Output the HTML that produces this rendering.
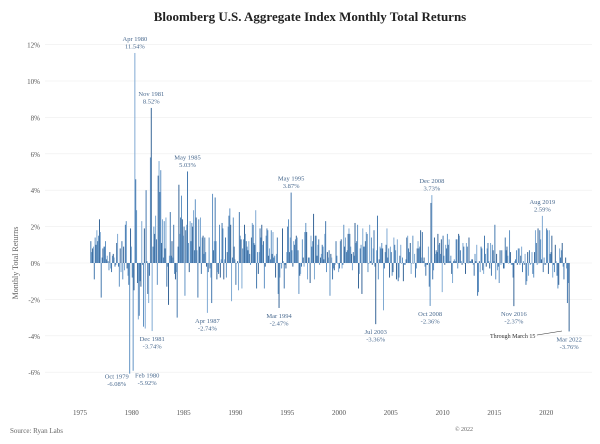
<!DOCTYPE html>
<html><head><meta charset="utf-8"><style>
body{margin:0;background:#fff;}
svg{display:block;font-family:"Liberation Serif",serif;}
</style></head><body>
<svg id="chart" width="600" height="444" viewBox="0 0 600 444">
<rect width="600" height="444" fill="#fff"/>
<text x="310" y="21" text-anchor="middle" font-size="13" font-weight="bold" fill="#222">Bloomberg U.S. Aggregate Index Monthly Total Returns</text>
<text transform="translate(18,263) rotate(-90)" text-anchor="middle" font-size="8" fill="#666">Monthly Total Returns</text>
<text x="10" y="433" font-size="7" fill="#666">Source: Ryan Labs</text>
<text x="455" y="431" font-size="6" fill="#666">© 2022</text>
<g id="grid"></g><g id="bars"></g><g id="ann"></g>
</svg>
<script>
const yTicks=[12,10,8,6,4,2,0,-2,-4,-6];
const xTicks=[1975,1980,1985,1990,1995,2000,2005,2010,2015,2020];
const startYear=1976;
const returns=[
1.2,0.6,0.8,0.9,-0.9,1.4,1.0,1.8,1.2,1.5,2.4,1.7,
-1.9,0.3,0.8,0.9,0.9,1.2,0.2,0.4,0.1,-0.4,0.6,-0.3,
-0.5,0.4,0.5,0.3,-0.2,-0.1,1.1,1.6,-0.2,-1.3,0.8,-0.5,
1.2,-0.9,0.9,-0.4,2.1,2.3,-0.3,-0.7,-1.2,-6.08,1.9,0.9,
-0.8,-5.92,-1.5,11.54,4.6,2.9,-1.1,-3.1,-2.9,-1.0,-1.3,2.3,
-0.1,-3.5,1.9,-3.6,4.0,0.1,-1.7,-2.2,-0.7,5.8,8.52,-3.74,
0.9,2.0,1.6,2.6,1.3,-1.2,4.8,5.6,3.9,5.1,1.1,2.4,
0.3,2.3,0.8,2.5,-1.3,-0.2,-2.3,0.4,2.8,0.4,1.2,0.3,
2.1,-0.6,-0.9,-0.5,-3.0,0.9,4.3,1.6,2.5,3.7,2.4,1.5,
2.0,-1.8,1.8,2.1,5.03,1.1,-0.5,2.3,1.2,2.2,2.0,2.9,
0.7,3.5,2.5,0.7,-1.9,2.4,0.9,2.5,-0.6,1.4,1.5,0.5,
1.4,0.6,-0.2,-2.74,-0.5,1.4,-0.3,-0.8,-2.2,3.8,0.7,1.2,
3.6,1.2,-0.9,-0.5,-0.6,2.1,-0.8,0.2,2.2,1.9,-0.9,0.2,
1.4,-0.8,0.6,2.0,2.6,3.0,2.1,-2.1,0.3,2.5,0.9,0.2,
-1.2,0.0,0.1,-1.5,2.8,1.5,1.3,-1.4,0.8,1.3,2.1,1.6,
1.2,0.9,0.7,1.2,0.5,-0.1,1.4,2.2,2.1,1.1,1.0,2.9,
-1.4,0.6,-0.6,0.6,1.9,1.4,2.1,1.0,1.2,-1.4,-0.2,1.5,
1.9,1.8,0.4,0.8,0.2,1.8,0.5,1.7,0.3,0.4,-0.8,0.5,
1.4,-1.7,-2.47,-0.8,-0.0,-0.3,1.9,0.1,-1.4,-0.1,-0.3,0.6,
2.0,2.4,0.6,1.4,3.87,0.7,-0.2,1.2,1.0,1.3,1.5,1.4,
0.7,-1.7,-0.7,-0.6,-0.2,1.3,0.3,-0.2,1.7,2.2,1.7,-0.9,
0.3,0.3,-1.1,1.5,0.9,1.2,2.7,-0.9,1.5,1.5,0.4,1.0,
1.3,-0.1,0.3,0.5,1.0,0.9,0.2,1.6,2.3,-0.5,0.6,0.3,
0.7,-1.8,0.5,0.3,-0.9,-0.3,-0.4,-0.1,1.2,0.4,-0.0,-0.5,
-0.3,1.2,1.3,-0.3,-0.1,2.1,0.9,1.4,0.6,0.7,1.6,1.9,
1.6,0.9,0.5,-0.4,0.6,0.4,2.2,1.1,1.2,2.1,-1.4,-0.6,
0.8,1.0,-1.7,1.9,0.9,0.9,1.2,1.7,1.6,-0.5,0.0,2.1,
0.1,1.4,-0.1,0.8,1.8,-0.2,-3.36,0.7,2.6,-0.9,0.2,0.9,
0.8,1.1,0.8,-2.6,-0.3,0.6,1.0,1.9,0.3,0.8,-0.8,0.9,
0.6,-0.7,-0.5,1.4,1.0,0.7,-0.9,1.3,-1.0,-0.8,0.4,1.0,
0.0,0.3,-1.0,-0.1,-0.1,0.2,1.4,1.5,0.8,0.6,1.1,-0.6,
-0.0,1.5,0.0,0.5,-0.8,-0.3,0.8,1.2,0.8,0.9,1.8,0.3,
1.7,0.1,0.3,-0.2,-0.7,-0.1,-0.1,0.9,-1.3,-2.36,3.3,3.73,
-0.9,-0.4,1.4,0.5,0.7,0.6,1.6,1.0,1.1,0.5,1.3,-1.6,
1.5,0.4,-0.1,1.0,0.8,1.6,1.0,1.3,0.1,0.4,-0.6,-1.1,
0.1,0.2,0.1,1.3,1.3,-0.3,1.6,1.5,0.7,0.1,-0.1,1.1,
0.9,-0.0,-0.6,1.1,0.9,0.0,1.4,0.1,0.1,0.2,0.2,-0.1,
-0.7,0.5,0.1,1.0,-1.8,-1.6,0.1,-0.5,0.9,0.8,-0.4,-0.6,
1.5,0.5,-0.2,0.8,1.1,0.1,-0.3,1.1,-0.7,1.0,0.7,0.1,
2.1,-0.9,0.5,-0.4,-0.2,-1.1,0.7,-0.1,0.7,0.0,-0.3,-0.3,
1.4,0.7,0.9,0.4,0.0,1.8,0.6,-0.1,-0.1,-0.8,-2.37,0.1,
0.2,0.7,-0.1,0.8,0.8,-0.1,0.4,0.9,-0.5,0.1,-0.1,0.5,
-1.2,-1.0,0.6,-0.7,0.7,-0.1,0.0,0.6,-0.6,-0.8,0.6,1.8,
1.1,-0.1,1.9,0.0,1.8,1.3,0.2,2.59,-0.5,0.3,-0.1,-0.1,
1.9,1.8,-0.6,1.8,0.5,0.6,1.5,-0.8,-0.1,-0.5,1.0,0.1,
-0.7,-1.4,-1.2,0.8,0.3,0.7,1.1,-0.2,-0.9,-0.0,0.3,-0.3,
-2.2,-1.1,-3.76];
const annMonths=["Apr 1980","Nov 1981","May 1985","May 1995","Dec 2008","Aug 2019","Oct 1979","Feb 1980","Dec 1981","Apr 1987","Mar 1994","Jul 2003","Oct 2008","Nov 2016","Mar 2022"];
const annValues=[11.54,8.52,5.03,3.87,3.73,2.59,-6.08,-5.92,-3.74,-2.74,-2.47,-3.36,-2.36,-2.37,-3.76];
const annIndex=[51,70,112,232,395,523,45,49,71,135,218,330,393,490,554];

const NS="http://www.w3.org/2000/svg";
const x=t=>80+(t-1975)*10.36;
const y=v=>263-v*18.2;
function mk(tag,attrs,parent){const e=document.createElementNS(NS,tag);for(const k in attrs)e.setAttribute(k,attrs[k]);parent.appendChild(e);return e;}
const grid=document.getElementById('grid'),bars=document.getElementById('bars'),ann=document.getElementById('ann');
yTicks.forEach(v=>{
  const l=mk('line',{x1:45,x2:592,y1:y(v),y2:y(v),stroke:'#eee','stroke-width':0.6},grid);
  
  
  const t=mk('text',{x:40,y:y(v)+3,'text-anchor':'end','font-size':7,fill:'#555'},grid);
  t.textContent=v+'%';
  
  
});
xTicks.forEach(v=>{
  const t=mk('text',{x:x(v),y:415,'text-anchor':'middle','font-size':7,fill:'#555'},grid);
  t.textContent=v;
  
  
});
const shades=['#3d73ab','#5b8fc2','#2f5f93','#7aa6d1'];
returns.forEach((v,i)=>{
  const t=startYear+i/12;
  const r=mk('rect',{x:x(t),width:0.95,y:Math.min(y(v),y(0)),height:Math.max(0.4,Math.abs(y(v)-y(0))),fill:shades[i%4]},bars);
  
  
});
annMonths.forEach((m,k)=>{
  const v=annValues[k],i=annIndex[k];
  let cx=x(startYear+i/12)+0.5;
  const pos=v>0;
  let by=pos?y(v)-12:y(v)+10;
  if(m==="Oct 1979"){cx-=13;by-=5;}
  if(m==="Feb 1980"){cx+=14;by-=3;}
  const g=mk('text',{x:cx,y:by,'text-anchor':'middle','font-size':6.5,fill:'#4a6a8f'},ann);
  
  
  const a=mk('tspan',{x:cx},g);a.textContent=m;
  const b=mk('tspan',{x:cx,dy:7.5},g);b.textContent=v.toFixed(2)+'%';
});
const th=mk('text',{x:490,y:338,'font-size':6,fill:'#333'},ann);
th.textContent='Through March 15';


const ar=mk('line',{x1:537,y1:335,x2:562,y2:331,stroke:'#333','stroke-width':0.6},ann);


</script>
</body></html>
